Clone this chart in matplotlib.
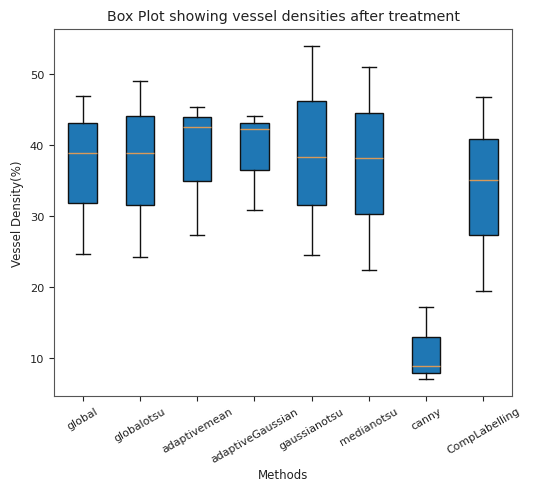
import matplotlib
matplotlib.use("Agg")
import matplotlib.pyplot as plt


methods = [
    "global",
    "globalotsu",
    "adaptivemean",
    "adaptiveGaussian",
    "gaussianotsu",
    "medianotsu",
    "canny",
    "CompLabelling"
]

whisker_low = [24.7, 24.3, 27.4, 30.8, 24.6, 22.4, 7.1, 19.5]
q1 = [31.9, 31.6, 34.9, 36.5, 31.5, 30.3, 7.9, 27.3]
medians = [38.9, 38.9, 42.5, 42.2, 38.3, 38.1, 8.9, 35.0]
q3 = [43.0, 44.0, 43.9, 43.1, 46.1, 44.5, 13.0, 40.8]
whisker_high = [46.9, 49.0, 45.3, 44.0, 53.95, 51.0, 17.3, 46.7]


plt.rcParams["font.size"] = 8.5
plt.rcParams["axes.titlesize"] = 10.2
plt.rcParams["xtick.labelsize"] = 7.9
plt.rcParams["ytick.labelsize"] = 8.2
plt.rcParams["text.color"] = "#222222"
plt.rcParams["axes.labelcolor"] = "#222222"
plt.rcParams["xtick.color"] = "#222222"
plt.rcParams["ytick.color"] = "#222222"

stats = []
for i, name in enumerate(methods):
    stats.append({
        "label": name,
        "whislo": whisker_low[i],
        "q1": q1[i],
        "med": medians[i],
        "q3": q3[i],
        "whishi": whisker_high[i],
        "fliers": []
    })

fig = plt.figure(figsize=(5.35, 4.81), dpi=100)
ax = fig.add_axes([0.101, 0.175, 0.856, 0.763])

ax.bxp(
    stats,
    patch_artist=True,
    showfliers=False,
    boxprops=dict(facecolor="#1f77b4", edgecolor="#111111", linewidth=1.0),
    medianprops=dict(color="#d89a5a", linewidth=1.0),
    whiskerprops=dict(color="#111111", linewidth=1.0),
    capprops=dict(color="#111111", linewidth=1.0)
)

for spine in ax.spines.values():
    spine.set_color("#555555")

ax.set_title("Box Plot showing vessel densities after treatment")
ax.set_xlabel("Methods", labelpad=3)
ax.set_ylabel("Vessel Density(%)")

plt.xticks(rotation=30)

fig.savefig("out.png", dpi=100)
plt.close(fig)
